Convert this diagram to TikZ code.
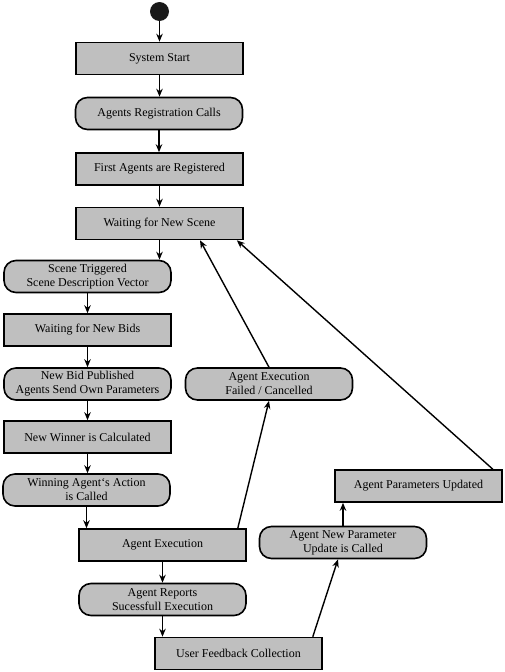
\documentclass[tikz,border=0pt]{standalone}
\usepackage{fontspec}
\setmainfont{Liberation Serif}
\usetikzlibrary{arrows.meta,calc}
\definecolor{boxgray}{RGB}{191,191,191}
\begin{document}
\begin{tikzpicture}[x=1pt,y=-1pt,
  every node/.style={font=\fontsize{12}{14}\selectfont, align=center},
  sq/.style={draw=black, fill=boxgray, line width=1.6pt, minimum width=167pt, minimum height=32pt, inner sep=1pt},
  rnd/.style={sq, rounded corners=12pt},
  arr/.style={-{Stealth[length=8pt,width=6.5pt]}, line width=1.4pt}]
\useasboundingbox (0,0) rectangle (505,672);
\node[circle, fill=black!90, minimum size=19pt, inner sep=0pt] (start) at (159.5,11.5) {};
\node[sq]  (sys)     at (159.5,58.5)  {System Start};
\node[rnd] (reg)     at (159,113.5)   {Agents Registration Calls};
\node[sq]  (first)   at (159.5,169)   {First Agents are Registered};
\node[sq]  (wait)    at (159.5,223.5) {Waiting for New Scene};
\node[rnd] (trig)    at (87.5,276.5)  {Scene Triggered\\Scene Description Vector};
\node[sq]  (bids)    at (87.5,330)    {Waiting for New Bids};
\node[rnd] (pub)     at (87.5,384)    {New Bid Published\\Agents Send Own Parameters};
\node[rnd] (fail)    at (269,384)     {Agent Execution\\Failed / Cancelled};
\node[sq]  (winner)  at (87.5,437)    {New Winner is Calculated};
\node[rnd] (action)  at (86.5,490)    {Winning Agent‘s Action\\is Called};
\node[sq]  (exec)    at (162.5,545)   {Agent Execution};
\node[rnd] (reports) at (162.5,599.5) {Agent Reports\\Sucessfull Execution};
\node[sq]  (fb)      at (238.5,653.5) {User Feedback Collection};
\node[rnd] (newp)    at (343,542.5)   {Agent New Parameter\\Update is Called};
\node[sq]  (upd)     at (418.5,486)   {Agent Parameters Updated};

\draw[arr] (start.south) -- (start.south |- sys.north);
\draw[arr] (sys.south) -- (sys.south |- reg.north);
\draw[arr] (reg.south) -- (reg.south |- first.north);
\draw[arr] (first.south) -- (first.south |- wait.north);
\draw[arr] (wait.south) -- (wait.south |- trig.north);
\draw[arr] (trig.south) -- (trig.south |- bids.north);
\draw[arr] (bids.south) -- (bids.south |- pub.north);
\draw[arr] (pub.south) -- (pub.south |- winner.north);
\draw[arr] (winner.south) -- (winner.south |- action.north);
\draw[arr] (action.south) -- (action.south |- exec.north);
\draw[arr] (exec.south) -- (exec.south |- reports.north);
\draw[arr] (reports.south) -- (reports.south |- fb.north);
\draw[arr] ($(exec.north east)+(-9,0)$) -- (fail.south);
\draw[arr] (fail.north) -- ($(wait.south)+(40.5,0)$);
\draw[arr] ($(fb.north east)+(-10,0)$) -- ($(newp.south)+(-5,0)$);
\draw[arr] (newp.north) -- (newp.north |- upd.south);
\draw[arr] ($(upd.north east)+(-10,0)$) -- ($(wait.south east)+(-7,0)$);
\end{tikzpicture}
\end{document}
